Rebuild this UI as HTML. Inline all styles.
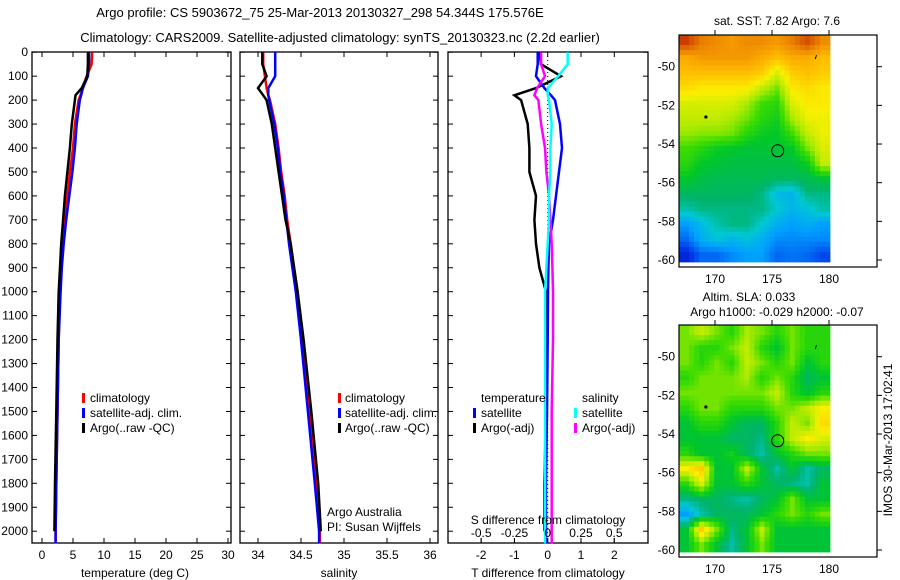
<!DOCTYPE html>
<html><head><meta charset="utf-8"><style>
body{margin:0;background:#fff;}
svg{display:block;font-family:"Liberation Sans",sans-serif;}
text{font-size:12px;fill:#000;}
</style></head><body>
<svg id="c" width="900" height="580">
<text x="320" y="17" text-anchor="middle" style="font-size:13px">Argo profile: CS 5903672_75 25-Mar-2013 20130327_298 54.344S 175.576E</text>
<text x="340" y="42" text-anchor="middle" style="font-size:13px">Climatology: CARS2009. Satellite-adjusted climatology: synTS_20130323.nc (2.2d earlier)</text>
</svg>
<script>
// ---- data ----
const depths=[0,50,100,150,180,200,300,400,500,600,700,800,900,1000,1200,1500,1800,2000,2050];
const tempClim=[8.1,8.0,7.2,6.6,6.2,5.9,5.3,5.0,4.5,4.1,3.7,3.3,3.1,2.9,2.7,2.5,2.3,2.2,2.2];
const tempSat=[7.6,7.6,7.4,6.6,6.3,6.1,5.6,5.3,4.9,4.4,3.9,3.5,3.2,3.0,2.7,2.5,2.3,2.2,2.2];
const tempArgo=[7.4,7.4,7.3,6.4,5.4,5.3,4.8,4.5,4.1,3.7,3.4,3.1,2.9,2.7,2.5,2.3,2.1,2.0,2.0];
const salClim=[34.06,34.06,34.08,34.1,34.12,34.14,34.2,34.24,34.27,34.31,34.34,34.38,34.42,34.46,34.52,34.6,34.68,34.72,34.72];
const salSat=[34.2,34.2,34.2,34.12,34.12,34.13,34.19,34.23,34.26,34.3,34.33,34.36,34.4,34.44,34.5,34.58,34.66,34.71,34.71];
const salArgo=[34.05,34.05,34.1,34.0,34.06,34.1,34.16,34.2,34.24,34.28,34.32,34.38,34.42,34.46,34.53,34.62,34.7,34.73,34.73];
const tDiffArgo=[-0.25,-0.2,0.4,-0.35,-1.0,-0.8,-0.6,-0.55,-0.55,-0.35,-0.4,-0.35,-0.25,-0.05,-0.05,-0.05,-0.1,-0.1,-0.1];
const tDiffSat=[-0.3,-0.3,-0.35,-0.1,0.1,0.22,0.37,0.43,0.34,0.25,0.16,0.04,0.02,0.01,0.0,-0.02,-0.05,-0.05,-0.05];
const sDiffArgo=[-0.05,-0.05,-0.02,-0.08,-0.1,-0.07,-0.05,-0.02,-0.01,0.01,0.02,0.03,0.035,0.04,0.04,0.03,0.03,0.03,0.03];
const sDiffSat=[0.15,0.15,0.08,0.0,0.0,0.01,0.03,0.02,0.02,0.01,0.01,0.0,-0.01,-0.02,-0.02,-0.02,-0.02,-0.02,-0.02];
const depthTicks=[0,100,200,300,400,500,600,700,800,900,1000,1100,1200,1300,1400,1500,1600,1700,1800,1900,2000];
const tempTicks=[0,5,10,15,20,25,30];
const salTicks=[34,34.5,35,35.5,36];
const tDiffTicks=[-2,-1,0,1,2];
const sDiffTicks=[-0.5,-0.25,0,0.25,0.5];
const latTicks=[-50,-52,-54,-56,-58,-60];
const lonTicks=[170,175,180];
const sstGrid=[
[.9,.82,.8,.78,.8,.8,.78,.82,.88,.8],
[.75,.78,.78,.78,.78,.75,.72,.75,.75,.72],
[.72,.72,.72,.72,.72,.7,.62,.7,.72,.7],
[.68,.66,.66,.66,.66,.6,.55,.66,.68,.66],
[.62,.62,.62,.62,.58,.52,.5,.62,.66,.66],
[.6,.6,.6,.58,.55,.5,.48,.58,.64,.64],
[.57,.56,.56,.55,.5,.47,.46,.52,.6,.64],
[.52,.5,.47,.46,.45,.45,.45,.46,.55,.62],
[.5,.46,.45,.44,.44,.44,.44,.44,.47,.6],
[.46,.44,.43,.43,.43,.43,.42,.42,.43,.45],
[.42,.42,.42,.42,.42,.4,.34,.33,.4,.4],
[.38,.4,.4,.4,.4,.4,.36,.33,.35,.38],
[.3,.34,.38,.4,.4,.36,.32,.3,.32,.3],
[.25,.32,.35,.33,.35,.32,.28,.28,.28,.28],
[.18,.25,.25,.28,.3,.3,.25,.26,.25,.22]];
const slaGrid=[
[.55,.6,.55,.5,.58,.55,.5,.55,.5,.5],
[.55,.5,.5,.55,.6,.5,.45,.55,.5,.5],
[.55,.5,.55,.5,.6,.55,.5,.55,.45,.5],
[.5,.55,.55,.55,.58,.5,.55,.5,.42,.45],
[.55,.55,.55,.55,.55,.55,.6,.5,.45,.5],
[.5,.55,.55,.5,.5,.5,.55,.55,.6,.65],
[.45,.5,.5,.45,.42,.42,.5,.6,.55,.68],
[.45,.45,.45,.42,.42,.4,.5,.6,.65,.62],
[.5,.45,.45,.48,.42,.38,.45,.5,.55,.55],
[.65,.7,.45,.45,.6,.45,.38,.45,.38,.42],
[.5,.62,.45,.45,.5,.45,.42,.4,.38,.45],
[.4,.42,.42,.4,.38,.42,.45,.55,.45,.45],
[.3,.38,.42,.42,.42,.45,.5,.55,.5,.55],
[.45,.7,.55,.4,.45,.6,.45,.45,.45,.45],
[.45,.55,.45,.38,.45,.55,.45,.45,.45,.45]];

const NS='http://www.w3.org/2000/svg';
const svg=document.getElementById('c');
function mk(tag,at,parent){const e=document.createElementNS(NS,tag);for(const k in at)e.setAttribute(k,at[k]);(parent||svg).appendChild(e);return e;}
const yD=d=>52.2+d*0.2395;
const xT=v=>42+v*6.2;
const xS=v=>258+(v-34)*86;
const xTd=v=>547.7+v*33.3;
const xSd=v=>547.7+v*133;

function step(xs,xf,color,name,maxD){
  let p='';
  depths.forEach((d,i)=>{ if(maxD!==undefined&&d>maxD)return; p+=(i?'L':'M')+xf(xs[i]).toFixed(1)+','+yD(d).toFixed(1);});
  const e=mk('path',{d:p,fill:'none',stroke:color,'stroke-width':2.5});
  
  
}
function panel(x0,x1,name){
  const r=mk('rect',{x:x0,y:52,width:x1-x0,height:491,fill:'none',stroke:'#000','stroke-width':1.3});
  
  
  depthTicks.forEach(d=>{const y=yD(d);mk('line',{x1:x0,x2:x0+5,y1:y,y2:y,stroke:'#000'});mk('line',{x1:x1-5,x2:x1,y1:y,y2:y,stroke:'#000'});});
}
function xticks(ticks,xf,labelY,name){
  ticks.forEach(t=>{const x=xf(t);mk('line',{x1:x,x2:x,y1:543,y2:538,stroke:'#000'});mk('line',{x1:x,x2:x,y1:52,y2:57,stroke:'#000'});
    const tx=mk('text',{x:x,y:labelY,'text-anchor':'middle'});tx.textContent=String(t);
    
    });
}
panel(32,231,'temperature-panel');
depthTicks.forEach(d=>{const t=mk('text',{x:28,y:yD(d)+4,'text-anchor':'end'});t.textContent=d;
  
  });
xticks(tempTicks,xT,559,'temperature-tick-label');
step(tempClim,xT,'#f00','temperature-climatology-line');
step(tempSat,xT,'#00f','temperature-satellite-line');
step(tempArgo,xT,'#000','temperature-argo-line',2000);
panel(240,438,'salinity-panel');
xticks(salTicks,xS,559,'salinity-tick-label');
step(salClim,xS,'#f00','salinity-climatology-line');
step(salSat,xS,'#00f','salinity-satellite-line');
step(salArgo,xS,'#000','salinity-argo-line',2000);
panel(448,648,'difference-panel');
xticks(tDiffTicks,xTd,559,'t-difference-tick-label');
mk('line',{x1:547.7,x2:547.7,y1:52,y2:543,stroke:'#000','stroke-dasharray':'1,3'});
step(tDiffArgo,xTd,'#000','t-difference-argo-line',2000);
step(tDiffSat,xTd,'#00f','t-difference-satellite-line');
step(sDiffArgo,xSd,'#f0f','s-difference-argo-line');
step(sDiffSat,xSd,'#0ff','s-difference-satellite-line');
sDiffTicks.forEach(t=>{const x=xSd(t);mk('line',{x1:x,x2:x,y1:543,y2:538,stroke:'#000'});
  const tx=mk('text',{x:x,y:537,'text-anchor':'middle'});tx.textContent=String(t);
  
  });

const stops=[[0.1,[0,0,160]],[0.2,[0,50,230]],[0.3,[0,160,255]],[0.36,[0,200,210]],[0.41,[0,180,110]],[0.46,[0,200,40]],[0.52,[60,220,0]],[0.58,[170,235,0]],[0.65,[250,240,0]],[0.72,[255,190,0]],[0.8,[240,140,0]],[0.88,[210,80,0]],[0.96,[180,0,0]]];
function cmap(v){
  if(v<=stops[0][0])return `rgb(${stops[0][1]})`;
  for(let i=1;i<stops.length;i++){if(v<=stops[i][0]){const a=stops[i-1],b=stops[i],f=(v-a[0])/(b[0]-a[0]);
    return 'rgb('+a[1].map((c,k)=>Math.round(c+(b[1][k]-c)*f)).join(',')+')';}}
  return `rgb(${stops[stops.length-1][1]})`;
}
function sample(grid,r,c){
  const R=grid.length,C=grid[0].length;
  r=Math.max(0,Math.min(R-1,r));c=Math.max(0,Math.min(C-1,c));
  const r0=Math.floor(r),c0=Math.floor(c),r1=Math.min(R-1,r0+1),c1=Math.min(C-1,c0+1),fr=r-r0,fc=c-c0;
  return grid[r0][c0]*(1-fr)*(1-fc)+grid[r0][c1]*(1-fr)*fc+grid[r1][c0]*fr*(1-fc)+grid[r1][c1]*fr*fc;
}
function map(top,grid,name){
  const x0=679,x1=877,bot=top+232;
  const yL=l=>top+31.7+(-50-l)*19.33;
  const xL=l=>715+(l-170)*11.4;
  const dx0=679,dw=151,dy0=top,dh=227;
  const SUB=3,nc=10*SUB,nr=15*SUB,cw=dw/nc,ch=dh/nr;
  for(let i=0;i<nr;i++)for(let j=0;j<nc;j++){
    const v=sample(grid,(i+0.5)/SUB-0.5,(j+0.5)/SUB-0.5);
    const r=mk('rect',{x:(dx0+j*cw).toFixed(2),y:(dy0+i*ch).toFixed(2),width:(cw+0.4).toFixed(2),height:(ch+0.4).toFixed(2),fill:cmap(v)});
    
    
  }
  const b=mk('rect',{x:x0,y:top,width:x1-x0,height:232,fill:'none',stroke:'#000','stroke-width':1.2});
  
  
  latTicks.forEach(l=>{const y=yL(l);mk('line',{x1:x1,x2:x1+5,y1:y,y2:y,stroke:'#000'});
    const t=mk('text',{x:x0-4,y:y+4,'text-anchor':'end'});t.textContent=l;
    
    });
  lonTicks.forEach(l=>{const x=xL(l);mk('line',{x1:x,x2:x,y1:top,y2:top-5,stroke:'#000'});
    const t=mk('text',{x:x,y:bot+16,'text-anchor':'middle'});t.textContent=l;
    
    });
  mk('circle',{cx:xL(169.2),cy:yL(-52.6),r:1.6,fill:'#000'});
  mk('line',{x1:xL(178.8),y1:yL(-49.6),x2:xL(178.9),y2:yL(-49.4),stroke:'#000'});
  const c=mk('circle',{cx:xL(175.5),cy:yL(-54.35),r:6,fill:'none',stroke:'#000'});
  
  
}
map(35,sstGrid,'sst-map');
map(325,slaGrid,'sla-map');
</script>
<svg width="900" height="580" style="position:absolute;left:0;top:0">
<g font-family="Liberation Sans, sans-serif" font-size="12">
<text x="135" y="577" text-anchor="middle">temperature (deg C)</text>
<text x="339" y="577" text-anchor="middle">salinity</text>
<text x="548" y="577" text-anchor="middle">T difference from climatology</text>
<text x="548" y="524" text-anchor="middle">S difference from climatology</text>
<g>
<rect x="82" y="393" width="3" height="10" fill="#f00"/><text x="90" y="402">climatology</text>
<rect x="82" y="408" width="3" height="10" fill="#00f"/><text x="90" y="417">satellite-adj. clim.</text>
<rect x="82" y="423" width="3" height="10" fill="#000"/><text x="90" y="432">Argo(..raw -QC)</text>
</g>
<g>
<rect x="338" y="393" width="3" height="10" fill="#f00"/><text x="345" y="402">climatology</text>
<rect x="338" y="408" width="3" height="10" fill="#00f"/><text x="345" y="417">satellite-adj. clim.</text>
<rect x="338" y="423" width="3" height="10" fill="#000"/><text x="345" y="432">Argo(..raw -QC)</text>
</g>
<text x="327" y="516">Argo Australia</text>
<text x="327" y="531">PI: Susan Wijffels</text>
<g>
<text x="481" y="402">temperature</text>
<rect x="473" y="408" width="3" height="10" fill="#00f"/><text x="481" y="417">satellite</text>
<rect x="473" y="423" width="3" height="10" fill="#000"/><text x="481" y="432">Argo(-adj)</text>
<text x="582" y="402">salinity</text>
<rect x="574" y="408" width="3" height="10" fill="#0ff"/><text x="582" y="417">satellite</text>
<rect x="574" y="423" width="3" height="10" fill="#f0f"/><text x="582" y="432">Argo(-adj)</text>
</g>
<text x="777" y="25" text-anchor="middle">sat. SST: 7.82 Argo: 7.6</text>
<text x="749" y="301" text-anchor="middle">Altim. SLA: 0.033</text>
<text x="777" y="316" text-anchor="middle">Argo h1000: -0.029 h2000: -0.07</text>
<text transform="translate(892,440) rotate(-90)" text-anchor="middle">IMOS 30-Mar-2013 17:02:41</text>
</g>
</svg>
</body></html>
